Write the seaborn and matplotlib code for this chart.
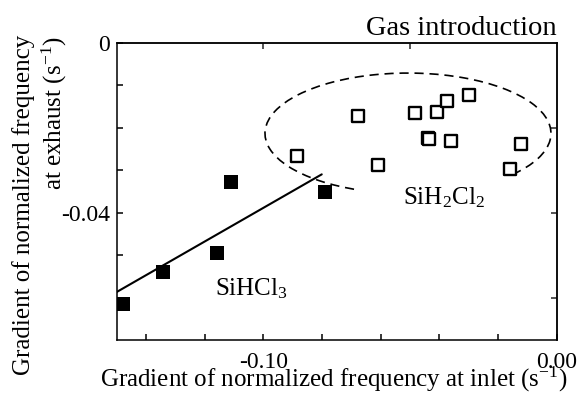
import matplotlib
matplotlib.use("Agg")
import matplotlib.pyplot as plt
from matplotlib.patches import Arc
import seaborn as sns
import pandas as pd

# ---- data ----
sihcl3_x = [-0.1479, -0.1343, -0.1159, -0.1110, -0.0790]
sihcl3_y = [-0.0616, -0.0539, -0.0494, -0.0327, -0.0352]

sih2cl2_x = [-0.0886, -0.0676, -0.0608, -0.0483, -0.0438, -0.0434, -0.0407,
             -0.0373, -0.0298, -0.0360, -0.0159, -0.0122]
sih2cl2_y = [-0.0267, -0.0173, -0.0287, -0.0165, -0.0225, -0.0227, -0.0163,
             -0.0137, -0.0124, -0.0232, -0.0297, -0.0238]

fit_x = [-0.150, -0.0801]
fit_y = [-0.0587, -0.0310]

# dashed ellipse (group outline) for SiH2Cl2
ell_center = (-0.0507, -0.02135)
ell_width = 0.0975
ell_height = 0.0284
ell_theta1 = -15.2
ell_theta2 = 218.7

x_tick_pos = [-0.14, -0.12, -0.10, -0.08, -0.06, -0.04, -0.02, 0.00]
x_tick_labels = ["", "", "-0.10", "", "", "", "", "0.00"]
y_tick_pos = [0.0, -0.01, -0.02, -0.03, -0.04, -0.05, -0.06]
y_tick_labels = ["0", "", "", "", "-0.04", "", ""]
top_tick_pos = [-0.10, -0.05]
right_tick_pos = [-0.02, -0.04, -0.06]

df_a = pd.DataFrame({"x": sihcl3_x, "y": sihcl3_y})
df_b = pd.DataFrame({"x": sih2cl2_x, "y": sih2cl2_y})
df_fit = pd.DataFrame({"x": fit_x, "y": fit_y})

sns.set_theme(style="ticks")
plt.rcParams["font.family"] = ["Liberation Serif", "DejaVu Serif"]
plt.rcParams["mathtext.fontset"] = "custom"
plt.rcParams["mathtext.rm"] = "Liberation Serif"
plt.rcParams["mathtext.it"] = "Liberation Serif:italic"
plt.rcParams["mathtext.bf"] = "Liberation Serif:bold"
plt.rcParams["axes.unicode_minus"] = False

fig = plt.figure(figsize=(5.79, 4.03), dpi=100)
ax = fig.add_axes([116.7 / 579, 1 - 340 / 403, 440 / 579, 297.3 / 403])

sns.lineplot(data=df_fit, x="x", y="y", color="black", lw=1.5, ax=ax)
sns.scatterplot(data=df_a, x="x", y="y", marker="s", s=100, color="black",
                edgecolor="black", linewidth=0, ax=ax, zorder=3)
sns.scatterplot(data=df_b, x="x", y="y", marker="s", s=72, color="white",
                edgecolor="black", linewidth=1.7, ax=ax, zorder=3)

ax.add_patch(Arc(ell_center, ell_width, ell_height, theta1=ell_theta1,
                 theta2=ell_theta2, color="black", lw=1.2,
                 linestyle=(0, (5.5, 3.5))))

ax.set_xlim(-0.15, 0.0)
ax.set_ylim(-0.07, 0.0)
ax.set_xticks(x_tick_pos, x_tick_labels)
ax.set_yticks(y_tick_pos, y_tick_labels)
ax.tick_params(direction="in", length=4.5, width=1.1, labelsize=17,
               colors="black")
ax.tick_params(axis="x", pad=9)
ax.tick_params(axis="y", pad=5)
for sp in ax.spines.values():
    sp.set_linewidth(1.1)
    sp.set_color("black")

secx = ax.secondary_xaxis("top")
secx.set_xticks(top_tick_pos)
secx.tick_params(direction="in", length=4.5, width=1.1, labeltop=False)
secx.spines["top"].set_linewidth(1.1)
secy = ax.secondary_yaxis("right")
secy.set_yticks(right_tick_pos)
secy.tick_params(direction="in", length=4.5, width=1.1, labelright=False)
secy.spines["right"].set_linewidth(1.1)

ax.set_xlabel("Gradient of normalized frequency at inlet (s$^{\\mathrm{-1}}$)",
              fontsize=18, color="black", va="baseline")
ax.xaxis.set_label_coords(0.494, (340 - 387) / 297.3)

# y label: two lines, right-aligned (aligned at the top when rotated)
ax.set_ylabel("Gradient of normalized frequency", fontsize=18, color="black",
              va="center", ha="center")
ax.yaxis.set_label_coords((24 - 116.7) / 440, (340 - 205) / 297.3)
fig.text(54 / 579, 1 - 36 / 403, "at exhaust (s$^{\\mathrm{-1}}$)",
         rotation=90, ha="center", va="top", fontsize=18, color="black")

ax.text(1.0, (340 - 35) / 297.3, "Gas introduction", transform=ax.transAxes,
        ha="right", va="baseline", fontsize=20.5, color="black")
ax.text(-0.1164, -0.0594, "SiHCl$_3$", ha="left", va="baseline",
        fontsize=18, color="black")
ax.text(-0.0525, -0.0381, "SiH$_2$Cl$_2$", ha="left", va="baseline",
        fontsize=18, color="black")

fig.savefig("out.png", dpi=100)
